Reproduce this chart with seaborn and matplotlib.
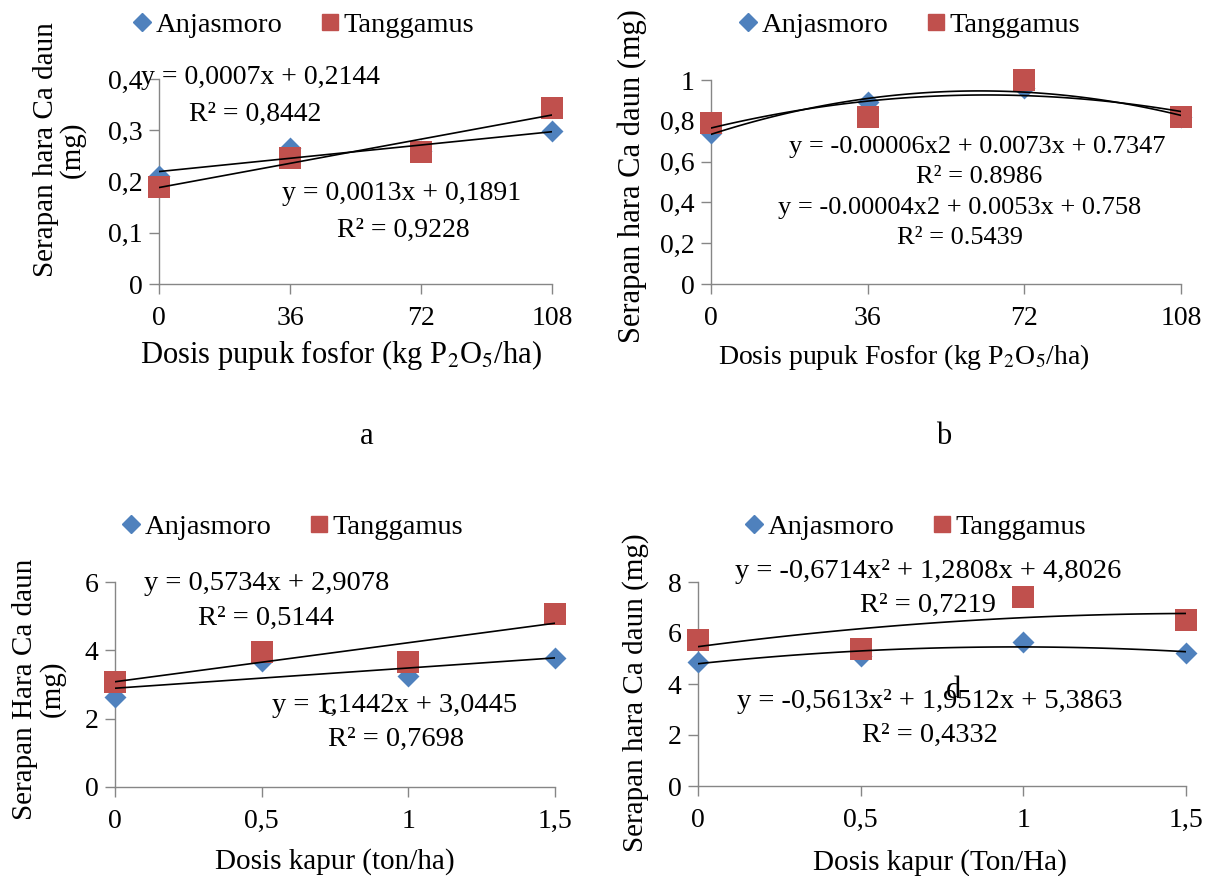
import matplotlib
matplotlib.use("Agg")
import matplotlib.pyplot as plt
import seaborn as sns
from matplotlib.lines import Line2D

# data
dosis_fosfor = [0, 36, 72, 108]
dosis_kapur = [0, 0.5, 1, 1.5]

a_anjasmoro = [0.21, 0.265, 0.26, 0.298]
a_tanggamus = [0.19, 0.245, 0.258, 0.343]

b_anjasmoro = [0.74, 0.89, 0.96, 0.82]
b_tanggamus = [0.79, 0.82, 1.0, 0.82]

c_anjasmoro = [2.63, 3.7, 3.24, 3.77]
c_tanggamus = [3.07, 3.95, 3.66, 5.07]

d_anjasmoro = [4.86, 5.1, 5.65, 5.2]
d_tanggamus = [5.73, 5.37, 7.4, 6.5]

fosfor_ticklabels = ["0", "36", "72", "108"]
kapur_ticklabels = ["0", "0,5", "1", "1,5"]

sns.set_style("ticks")
plt.rcParams["font.family"] = ["Liberation Serif", "DejaVu Serif"]
plt.rcParams["mathtext.fontset"] = "stix"
plt.rcParams["text.color"] = "black"
plt.rcParams["axes.labelcolor"] = "black"

BLUE = "#4F81BD"
RED = "#C0504D"
GREY = "#868686"
W, H = 1206, 876

fig = plt.figure(figsize=(W / 100, H / 100), dpi=100)


def fx(x):
    return x / W


def fy(y):
    return 1 - y / H


def panel(box, x, anj, tang, order, ylim, yticks, yticklabels, xticklabels,
          xlabel, xlabel_pos, xlabel_size, ylabel, ylabel_pos, ylabel_size):
    x0, y0, x1, y1 = box
    ax = fig.add_axes([fx(x0), fy(y1), (x1 - x0) / W, (y1 - y0) / H])
    sns.scatterplot(x=x, y=anj, marker="D", s=125, color=BLUE, linewidth=0,
                    ax=ax, clip_on=False, zorder=3)
    sns.scatterplot(x=x, y=tang, marker="s", s=235, color=RED, linewidth=0,
                    ax=ax, clip_on=False, zorder=3)
    for series in (anj, tang):
        sns.regplot(x=x, y=series, order=order, ci=None, scatter=False, ax=ax,
                    truncate=True,
                    line_kws=dict(color="black", lw=1.2, zorder=4))
    ax.set_xlim(x[0], x[-1])
    ax.set_ylim(*ylim)
    ax.set_xticks(x)
    ax.set_xticklabels(xticklabels)
    ax.set_yticks(yticks)
    ax.set_yticklabels(yticklabels)
    sns.despine(ax=ax)
    for side in ("left", "bottom"):
        ax.spines[side].set_color(GREY)
        ax.spines[side].set_linewidth(1)
    ax.tick_params(direction="out", length=7, width=1, color=GREY,
                   labelsize=20, labelcolor="black")
    ax.tick_params(axis="x", pad=9)
    ax.tick_params(axis="y", pad=5)
    ax.set_xlabel(xlabel, fontsize=xlabel_size, va="center")
    ax.xaxis.set_label_coords(*xlabel_pos)
    ax.set_ylabel(ylabel, fontsize=ylabel_size, va="center", linespacing=1.0)
    ax.yaxis.set_label_coords(*ylabel_pos)
    return ax


def legend(cx, cy):
    handles = [
        Line2D([], [], marker="D", color=BLUE, linestyle="None", markersize=9),
        Line2D([], [], marker="s", color=RED, linestyle="None", markersize=12),
    ]
    fig.legend(handles, ["Anjasmoro", "Tanggamus"], loc="center",
               bbox_to_anchor=(fx(cx), fy(cy)), ncol=2, frameon=False,
               fontsize=20.5, handlelength=0.7, handletextpad=0.15,
               columnspacing=1.3)


def label(x, y, s, size=20):
    fig.text(fx(x), fy(y), s, ha="center", va="center", fontsize=size)


# a
panel((159, 79, 552, 284), dosis_fosfor, a_anjasmoro, a_tanggamus, 1,
      (0, 0.4), [0, 0.1, 0.2, 0.3, 0.4], ["0", "0,1", "0,2", "0,3", "0,4"],
      fosfor_ticklabels, "Dosis pupuk fosfor (kg P$_2$O$_5$/ha)",
      (0.463, -0.346), 22, "Serapan hara Ca daun\n(mg)", (-0.254, 0.654), 21)
legend(303, 25)
label(260, 78, "y = 0,0007x + 0,2144")
label(255, 114, "R² = 0,8442")
label(402, 193, "y = 0,0013x + 0,1891")
label(403, 230, "R² = 0,9228")
label(367, 437, "a", 22)

# b
panel((711, 80, 1181, 284), dosis_fosfor, b_anjasmoro, b_tanggamus, 2,
      (0, 1), [0, 0.2, 0.4, 0.6, 0.8, 1], ["0", "0,2", "0,4", "0,6", "0,8", "1"],
      fosfor_ticklabels, "Dosis pupuk Fosfor (kg P$_2$O$_5$/ha)",
      (0.41, -0.358), 20, "Serapan hara Ca daun (mg)", (-0.168, 0.529), 22)
legend(909, 25)
label(977, 147, "y = -0.00006x2 + 0.0073x + 0.7347", 19)
label(979, 177, "R² = 0.8986", 19)
label(960, 208, "y = -0.00004x2 + 0.0053x + 0.758", 19)
label(960, 238, "R² = 0.5439", 19)
label(944, 437, "b", 22)

# c
panel((115, 582, 555, 787), dosis_kapur, c_anjasmoro, c_tanggamus, 1,
      (0, 6), [0, 2, 4, 6], ["0", "2", "4", "6"],
      kapur_ticklabels, "Dosis kapur (ton/ha)",
      (0.5, -0.366), 21, "Serapan Hara Ca daun\n(mg)", (-0.173, 0.478), 21)
legend(292, 527)
label(267, 583, "y = 0,5734x + 2,9078", 20.5)
label(266, 618, "R² = 0,5144", 20.5)
label(395, 705, "y = 1,1442x + 3,0445", 20.5)
label(396, 739, "R² = 0,7698", 20.5)
label(329, 706, "c", 22)

# d
panel((698, 582, 1186, 786), dosis_kapur, d_anjasmoro, d_tanggamus, 2,
      (0, 8), [0, 2, 4, 6, 8], ["0", "2", "4", "6", "8"],
      kapur_ticklabels, "Dosis kapur (Ton/Ha)",
      (0.496, -0.373), 21, "Serapan hara Ca daun (mg)", (-0.127, 0.456), 21)
legend(915, 527)
label(928, 572, "y = -0,6714x² + 1,2808x + 4,8026", 20.5)
label(928, 605, "R² = 0,7219", 20.5)
label(930, 702, "y = -0,5613x² + 1,9512x + 5,3863", 20.5)
label(930, 735, "R² = 0,4332", 20.5)
label(954, 690, "d", 22)

fig.savefig("out.png", dpi=100)
